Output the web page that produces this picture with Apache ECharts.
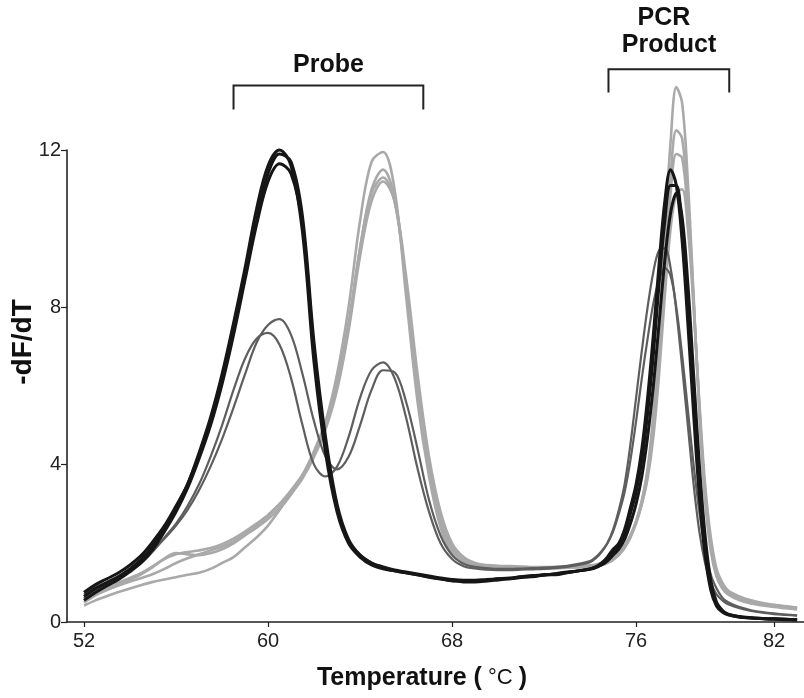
<!DOCTYPE html>
<html><head><meta charset="utf-8">
<script src="https://cdn.jsdelivr.net/npm/echarts@6/dist/echarts.min.js"></script>
<style>html,body{margin:0;padding:0;background:#fff}#c{width:804px;height:698px}</style>
</head><body><div id="c"></div>
<script>
// Temperature grid (°C)
const temps = [52,52.5,53,53.5,54,54.5,55,55.5,56,56.5,57,57.5,58,58.5,59,59.5,60,60.5,61,61.5,62,62.5,63,63.5,64,64.5,65,65.5,66,66.5,67,67.5,68,68.5,69,69.5,70,70.5,71,71.5,72,72.5,73,73.5,74,
  74.25,74.5,74.75,75,75.25,75.5,75.75,76,76.25,76.5,76.75,77,77.25,77.5,77.75,78,78.25,78.5,78.75,79,79.25,79.5,79.75,80,
  80.5,81,81.5,82,82.5,83];

// -dF/dT curves (black group)
const black1 = [0.65,0.85,1.0,1.15,1.35, 1.6,1.95,2.4,2.9,3.5, 4.3,5.2,6.3,7.6,9.0, 10.5,11.6,12.0,11.6,9.9, 6.6,4.3,2.8,2.0,1.65, 1.45,1.35,1.3,1.25,1.2, 1.15,1.1,1.05,1.05,1.05, 1.05,1.1,1.1,1.15,1.15, 1.2,1.2,1.25,1.3,1.35,
  1.4,1.5,1.65,1.85,2.0, 2.35,2.9,3.5,4.4,5.7, 7.3,9.1,10.7,11.5,11.1, 9.7,7.6,5.3,3.2,1.7, 0.8,0.4,0.25,0.18,
  0.12,0.1,0.08,0.07,0.06,0.05];
const black2 = [0.75,0.95,1.1,1.25,1.45, 1.7,2.05,2.45,2.95,3.5, 4.25,5.1,6.15,7.4,8.8, 10.2,11.4,11.9,11.7,10.3, 7.1,4.7,3.0,2.1,1.7, 1.5,1.4,1.32,1.27,1.22, 1.17,1.12,1.08,1.06,1.06, 1.08,1.1,1.12,1.15,1.18, 1.2,1.23,1.27,1.3,1.35,
  1.4,1.45,1.55,1.7,1.85, 2.1,2.5,3.0,3.7,4.7, 6.0,7.6,9.2,10.4,10.9, 10.3,8.6,6.3,4.0,2.2, 1.05,0.5,0.3,0.2,
  0.14,0.11,0.09,0.08,0.07,0.06];
const black3 = [0.55,0.75,0.92,1.08,1.28, 1.52,1.85,2.3,2.8,3.4, 4.15,5.0,6.05,7.3,8.7, 10.1,11.2,11.65,11.4,10.1, 6.9,4.5,2.9,2.05,1.7, 1.5,1.38,1.3,1.25,1.2, 1.14,1.09,1.05,1.02,1.02, 1.04,1.07,1.1,1.13,1.16, 1.19,1.22,1.26,1.3,1.34,
  1.38,1.47,1.6,1.78,1.95, 2.25,2.75,3.3,4.1,5.3, 6.8,8.6,10.2,11.1,11.1, 9.9,7.9,5.7,3.6,1.9, 0.9,0.45,0.27,0.19,
  0.13,0.1,0.09,0.08,0.07,0.06];

// dark grey group (double probe peak)
const dark1 = [0.6,0.8,0.95,1.1,1.3, 1.5,1.8,2.15,2.5,2.95, 3.5,4.2,5.0,5.9,6.7, 7.2,7.35,7.05,6.2,5.0, 4.0,3.7,3.95,4.7,5.7, 6.4,6.6,6.2,5.2,3.9, 2.8,2.0,1.6,1.42,1.36, 1.33,1.32,1.32,1.33,1.34, 1.35,1.37,1.4,1.45,1.52,
  1.62,1.78,2.0,2.35,2.85, 3.5,4.5,5.7,6.9,8.0, 8.9,9.45,9.5,9.0,7.9, 6.5,5.0,3.5,2.3,1.5, 1.0,0.7,0.55,0.45,
  0.35,0.28,0.24,0.2,0.18,0.16];
const dark2 = [0.7,0.88,1.02,1.17,1.35, 1.55,1.82,2.12,2.45,2.85, 3.35,3.95,4.65,5.45,6.3, 7.1,7.55,7.7,7.3,6.3, 5.1,4.2,3.88,4.2,5.0, 5.9,6.4,6.35,5.6,4.4, 3.1,2.2,1.7,1.48,1.4, 1.37,1.35,1.35,1.36,1.37, 1.38,1.4,1.43,1.48,1.55,
  1.65,1.8,2.0,2.3,2.75, 3.3,4.1,5.1,6.2,7.2, 8.1,8.7,9.0,8.8,8.0, 6.8,5.4,4.0,2.8,1.85, 1.2,0.85,0.62,0.5,
  0.38,0.3,0.25,0.22,0.19,0.17];

// light grey group
const light1 = [0.5,0.68,0.82,0.93,1.03, 1.12,1.22,1.35,1.5,1.62, 1.72,1.82,1.92,2.05,2.25, 2.45,2.7,3.0,3.35,3.75, 4.35,5.1,6.3,8.0,10.2, 11.7,11.95,11.0,8.3,5.6, 3.7,2.4,1.75,1.5,1.42, 1.4,1.38,1.37,1.37,1.37, 1.37,1.37,1.38,1.39,1.4,
  1.42,1.45,1.5,1.58,1.7, 1.88,2.15,2.55,3.1,3.9, 5.3,7.4,9.9,12.2,13.6, 13.2,11.2,8.3,5.3,3.1, 1.8,1.15,0.85,0.7,
  0.55,0.47,0.42,0.38,0.35,0.32];
const light2 = [0.6,0.75,0.88,1.0,1.12, 1.25,1.42,1.6,1.72,1.78, 1.82,1.88,1.98,2.12,2.3, 2.5,2.72,3.0,3.3,3.7, 4.25,4.95,6.0,7.5,9.5, 11.0,11.5,10.8,8.6,6.0, 3.9,2.55,1.85,1.55,1.45, 1.42,1.4,1.4,1.39,1.38, 1.38,1.38,1.39,1.4,1.42,
  1.44,1.48,1.53,1.6,1.72, 1.9,2.15,2.5,3.0,3.75, 5.0,6.9,9.2,11.3,12.5, 12.3,10.7,8.2,5.4,3.2, 1.9,1.2,0.9,0.72,
  0.58,0.5,0.44,0.4,0.37,0.34];
const light3 = [0.42,0.55,0.66,0.76,0.85, 0.94,1.02,1.08,1.14,1.2, 1.25,1.35,1.5,1.65,1.9, 2.15,2.45,2.85,3.25,3.7, 4.3,5.0,6.1,7.6,9.5, 10.9,11.3,10.7,8.6,6.1, 4.0,2.6,1.9,1.58,1.47, 1.43,1.41,1.4,1.4,1.39, 1.39,1.39,1.4,1.41,1.43,
  1.45,1.49,1.55,1.63,1.75, 1.93,2.2,2.55,3.05,3.8, 5.0,6.8,9.0,10.9,11.9, 11.8,10.4,8.1,5.5,3.3, 2.0,1.25,0.92,0.74,
  0.6,0.52,0.46,0.42,0.39,0.36];
const light4 = [0.55,0.7,0.82,0.94,1.08, 1.22,1.4,1.62,1.75,1.72, 1.7,1.75,1.85,2.0,2.2, 2.4,2.62,2.9,3.25,3.65, 4.2,4.9,5.9,7.4,9.3, 10.7,11.2,10.7,8.8,6.3, 4.2,2.8,2.0,1.65,1.5, 1.45,1.43,1.42,1.41,1.4, 1.4,1.4,1.41,1.42,1.44,
  1.46,1.5,1.56,1.64,1.76, 1.94,2.2,2.55,3.0,3.65, 4.7,6.3,8.3,10.0,10.9, 11.0,10.0,8.0,5.6,3.5, 2.15,1.35,1.0,0.8,
  0.65,0.55,0.48,0.44,0.4,0.37];

const xTicks = [52, 60, 68, 76, 82];
const yTicks = [0, 4, 8, 12];
// bracket spans in °C
const probeSpan = [58.5, 66.75];
const pcrSpan = [74.8, 80.05];

const FONT = 'Liberation Sans, Arial, sans-serif';
const chart = echarts.init(document.getElementById('c'), null, {renderer: 'canvas'});

function mk(vals, color, width) {
  return {
    type: 'line', data: temps.map((t, i) => [t, vals[i]]),
    showSymbol: false, smooth: 0.35, clip: false, silent: true,
    lineStyle: {color: color, width: width}
  };
}
const LIGHT = '#a9a9a9', DARK = '#5e5e5e', BLACK = '#161616';

chart.setOption({
  animation: false,
  backgroundColor: '#fff',
  grid: {left: 67, right: 0, top: 150, bottom: 76, containLabel: false},
  xAxis: {
    type: 'value', min: 51.26, max: 83.3,
    axisLine: {show: true, onZero: false, lineStyle: {color: '#222', width: 1.6}},
    axisTick: {show: true, customValues: xTicks, length: 5, lineStyle: {color: '#222', width: 1.2}},
    axisLabel: {customValues: xTicks, fontSize: 20, color: '#222', margin: 9, fontFamily: FONT},
    splitLine: {show: false}
  },
  yAxis: {
    type: 'value', min: 0, max: 12, interval: 4,
    axisLine: {show: true, lineStyle: {color: '#222', width: 1.6}},
    axisTick: {show: true, length: 6, lineStyle: {color: '#222', width: 1.2}},
    axisLabel: {fontSize: 20, color: '#222', margin: 6, fontFamily: FONT},
    splitLine: {show: false}
  },
  series: [
    mk(light4, LIGHT, 2.6), mk(light3, LIGHT, 2.6), mk(light2, LIGHT, 2.6), mk(light1, LIGHT, 2.6),
    mk(dark2, DARK, 2.2), mk(dark1, DARK, 2.2),
    mk(black3, BLACK, 3), mk(black2, BLACK, 3), mk(black1, BLACK, 3)
  ]
});

function px(t, v) { return chart.convertToPixel({gridIndex: 0}, [t, v]); }
const pA = px(probeSpan[0], 13.03), pB = px(probeSpan[1], 13.64);
const qA = px(pcrSpan[0], 13.46), qB = px(pcrSpan[1], 14.05);
const titleStyle = {fontFamily: FONT, fontWeight: 'bold', fontSize: 25, fill: '#111', align: 'center', verticalAlign: 'middle'};

chart.setOption({
  graphic: [
    {type: 'polyline', shape: {points: [[pA[0], pA[1]], [pA[0], pB[1]], [pB[0], pB[1]], [pB[0], pA[1]]]}, style: {stroke: '#222', lineWidth: 2, fill: null}},
    {type: 'polyline', shape: {points: [[qA[0], qA[1]], [qA[0], qB[1]], [qB[0], qB[1]], [qB[0], qA[1]]]}, style: {stroke: '#222', lineWidth: 2, fill: null}},
    {type: 'text', x: (pA[0] + pB[0]) / 2, y: 65, style: Object.assign({text: 'Probe'}, titleStyle)},
    {type: 'text', x: 664, y: 18, style: Object.assign({text: 'PCR'}, titleStyle)},
    {type: 'text', x: 669, y: 45, style: Object.assign({text: 'Product'}, titleStyle)},
    {type: 'text', x: 422, y: 678, style: {
      text: '{b|Temperature (}{n| °C }{b|)}', align: 'center', verticalAlign: 'middle',
      rich: {b: {fontFamily: FONT, fontWeight: 'bold', fontSize: 25, fill: '#111'},
             n: {fontFamily: FONT, fontWeight: 'normal', fontSize: 22, fill: '#111'}}}},
    {type: 'text', x: 23, y: 342, rotation: Math.PI / 2, style: Object.assign({}, titleStyle, {text: '-dF/dT', fontSize: 28})}
  ]
});
</script>
</body></html>
